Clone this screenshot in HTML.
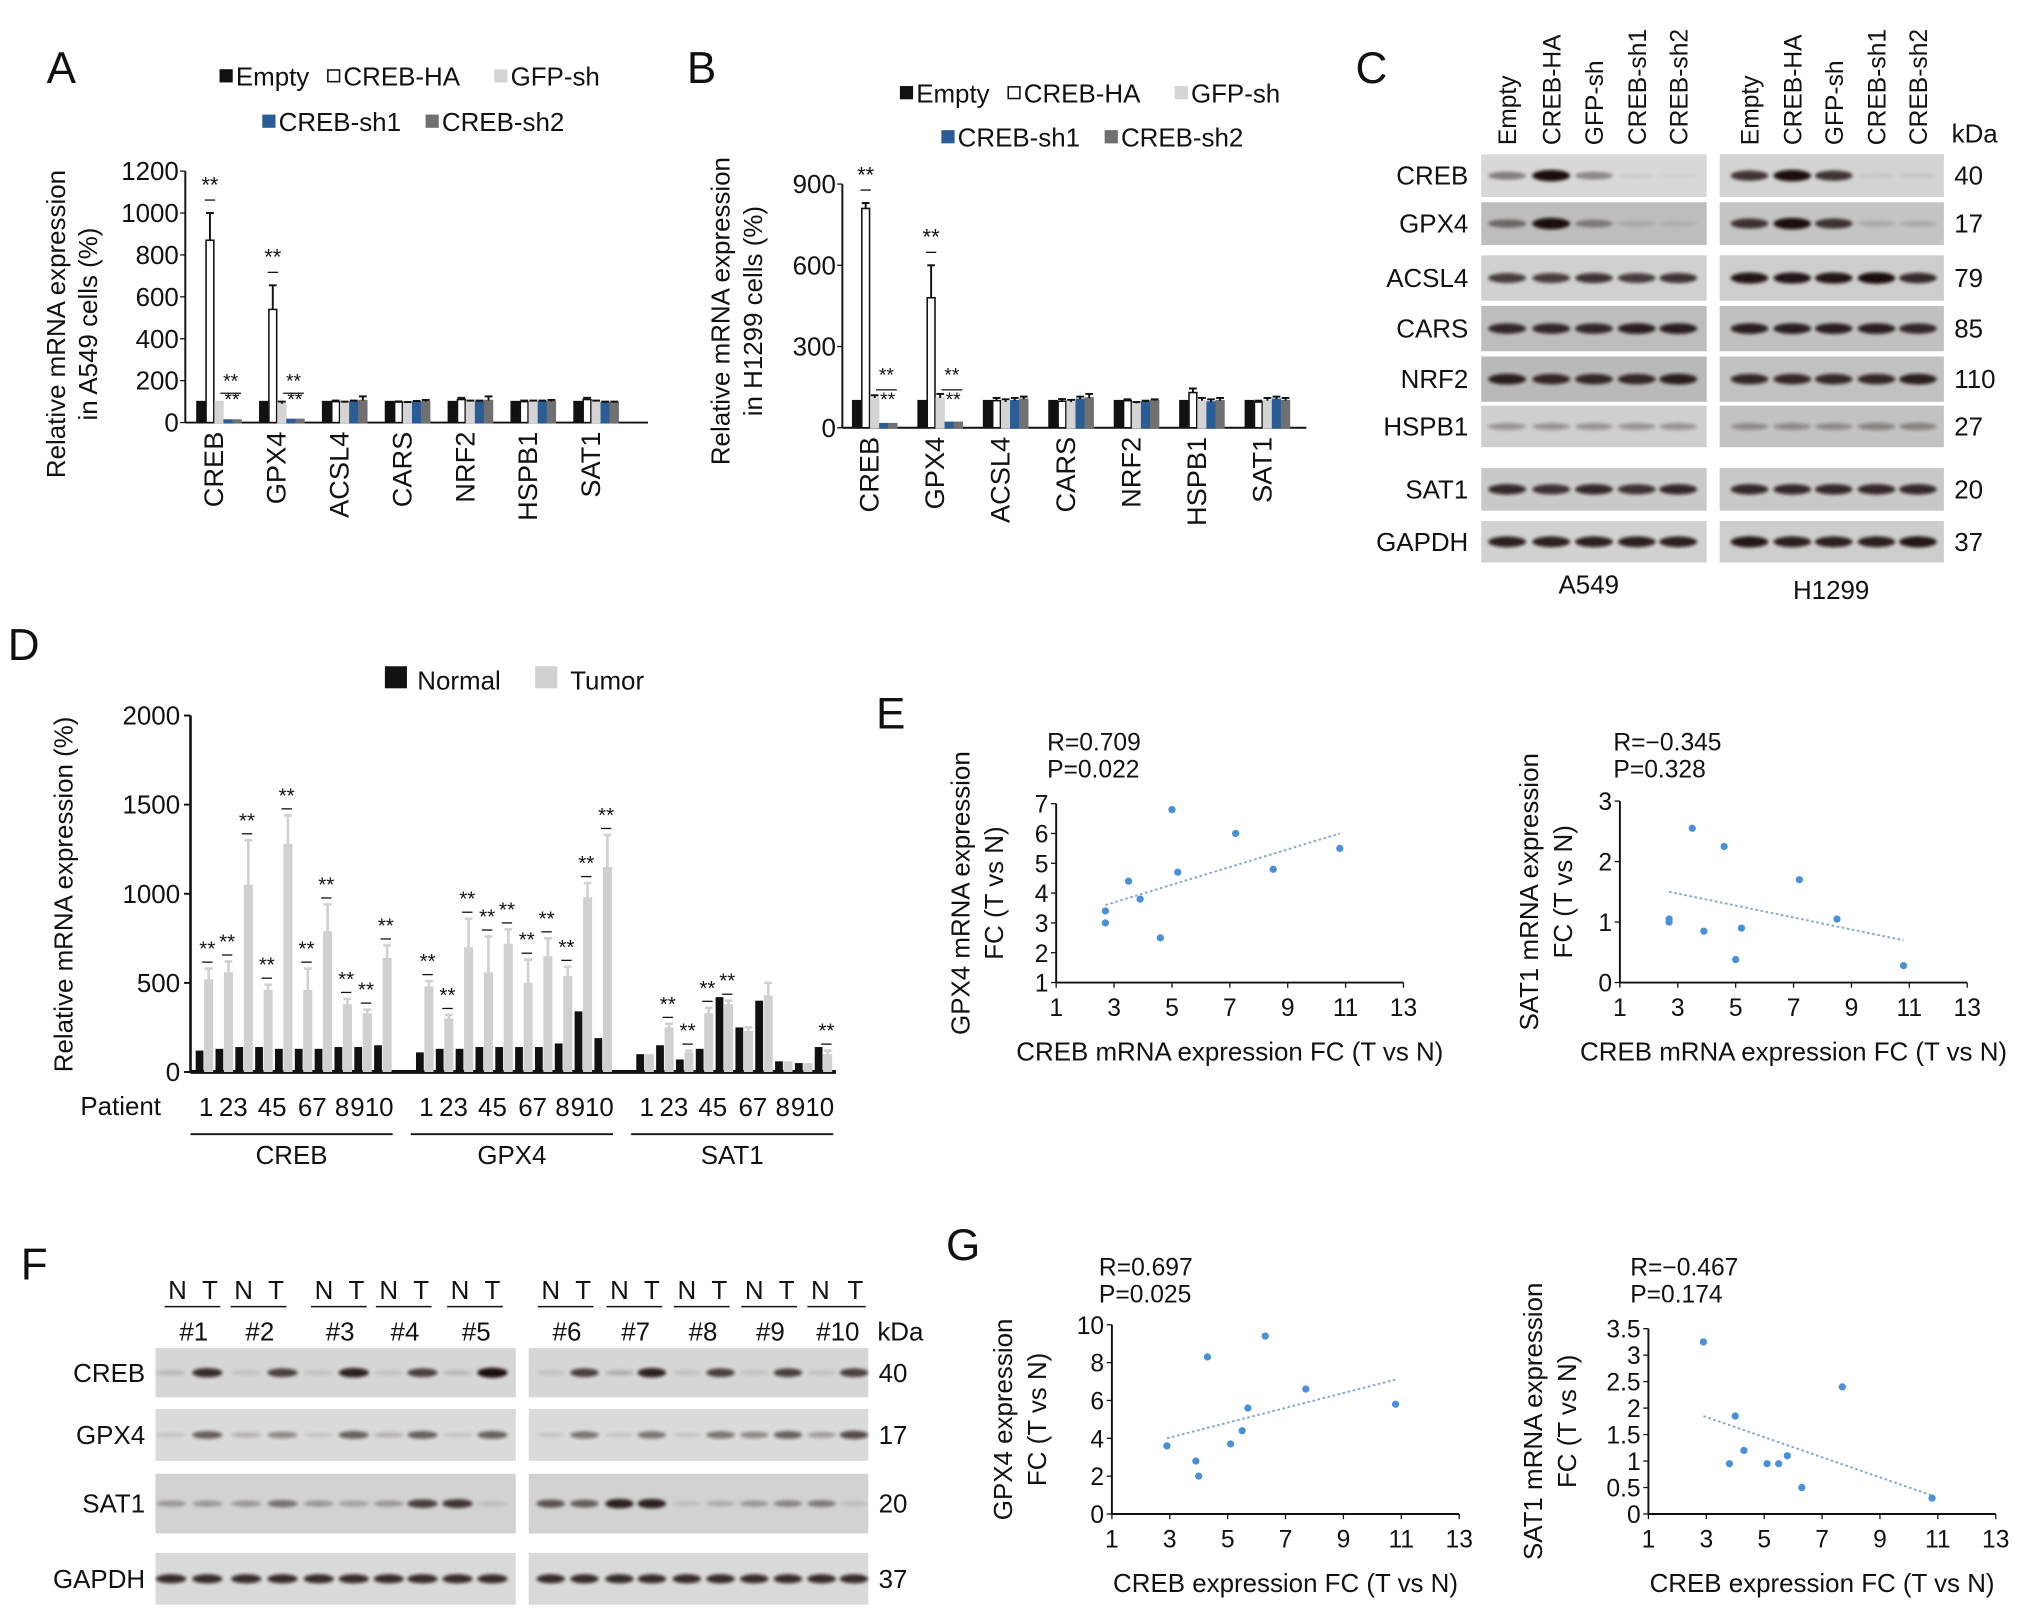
<!DOCTYPE html>
<html><head><meta charset="utf-8"><style>
html,body{margin:0;padding:0;background:#fff;}
svg{display:block;font-family:"Liberation Sans",Arial,sans-serif;}
</style></head><body>
<svg id="fig" width="2032" height="1619" viewBox="0 0 1568 1249" preserveAspectRatio="none" xmlns="http://www.w3.org/2000/svg">
<defs><filter id="blur" x="-20%" y="-50%" width="140%" height="200%"><feGaussianBlur stdDeviation="1.3"/></filter></defs>
</svg>
<script>
// ---------- DATA ----------
const genesA = ['CREB','GPX4','ACSL4','CARS','NRF2','HSPB1','SAT1'];
const seriesNames = ['Empty','CREB-HA','GFP-sh','CREB-sh1','CREB-sh2'];
const valsA = [[100,870,100,12,12],[100,540,90,15,15],[100,100,95,100,105],[100,98,95,98,100],[100,110,100,100,105],[100,100,100,100,100],[100,110,100,95,95]];
const errA = [[0,130,0,0,0],[0,115,10,0,0],[0,5,5,5,20],[0,3,3,5,8],[0,8,5,5,20],[0,5,5,5,8],[0,8,5,5,5]];
const ticksA = [0,200,400,600,800,1000,1200];
const valsB = [[100,810,110,15,15],[100,480,110,20,20],[100,100,95,100,105],[100,98,95,105,110],[100,100,90,95,100],[100,130,100,95,100],[100,95,100,105,100]];
const errB = [[0,20,10,0,0],[0,120,15,0,0],[0,10,10,10,10],[0,8,8,10,15],[0,5,5,5,5],[0,15,10,10,10],[0,5,10,10,10]];
const ticksB = [0,300,600,900];
const blotRowsC = ['CREB','GPX4','ACSL4','CARS','NRF2','HSPB1','SAT1','GAPDH'];
const kdaC = ['40','17','79','85','110','27','20','37'];
const bandA549 = [[0.45,1,0.4,0.05,0.03],[0.5,1,0.4,0.12,0.08],[0.75,0.75,0.8,0.75,0.8],[0.85,0.85,0.85,0.9,0.9],[0.9,0.85,0.85,0.85,0.9],[0.3,0.3,0.3,0.3,0.3],[0.85,0.8,0.85,0.8,0.85],[0.9,0.9,0.9,0.9,0.9]];
const bandH1299 = [[0.8,1,0.8,0.05,0.06],[0.8,1,0.8,0.15,0.15],[0.95,0.95,0.95,1,0.85],[0.9,0.9,0.9,0.9,0.85],[0.85,0.85,0.85,0.85,0.9],[0.3,0.3,0.3,0.35,0.35],[0.85,0.85,0.85,0.85,0.85],[0.95,0.9,0.9,0.9,0.95]];
const patients = ['1','2','3','4','5','6','7','8','9','10'];
const dGenes = ['CREB','GPX4','SAT1'];
const dNormal = [[120,130,140,140,130,130,130,140,140,150],[110,130,130,140,140,140,140,160,340,190],[100,150,70,130,420,250,400,60,50,140]];
const dTumor = [[520,560,1050,460,1280,460,790,380,330,640],[480,300,700,560,720,500,650,540,980,1150],[100,250,110,330,380,230,430,60,50,100]];
const dErr = [[60,60,250,30,160,120,150,30,20,70],[30,20,160,200,80,130,100,50,80,180],[0,20,10,30,20,20,70,0,0,20]];
const ticksD = [0,500,1000,1500,2000];
const eX = [2.7,2.7,3.5,3.9,4.6,5.0,5.2,7.2,8.5,10.8];
const eGPX4 = [3.0,3.4,4.4,3.8,2.5,6.8,4.7,6.0,4.8,5.5];
const eSAT1 = [1.0,1.05,2.55,0.85,2.25,0.38,0.9,1.7,1.05,0.28];
const gX = [2.9,3.9,4.0,4.3,5.1,5.5,5.7,6.3,7.7,10.8];
const gGPX4 = [3.6,2.8,2.0,8.3,3.7,4.4,5.6,9.4,6.6,5.8];
const gXs = [2.9,3.8,4.0,4.3,5.1,5.5,5.8,6.3,7.7,10.8];
const gSAT1 = [3.25,0.95,1.85,1.2,0.95,0.95,1.1,0.5,2.4,0.3];
const xTicksFC = [1,3,5,7,9,11,13];
const fCREB = [[0.15,0.85,0.1,0.75,0.1,0.9,0.1,0.75,0.15,1],[0.1,0.75,0.2,0.9,0.1,0.75,0.1,0.75,0.1,0.75]];
const fGPX4 = [[0.1,0.6,0.2,0.4,0.1,0.6,0.2,0.6,0.1,0.6],[0.1,0.5,0.1,0.5,0.1,0.5,0.4,0.6,0.3,0.7]];
const fSAT1 = [[0.3,0.3,0.3,0.5,0.3,0.25,0.3,0.75,0.8,0.1],[0.65,0.6,0.9,0.9,0.1,0.2,0.3,0.4,0.45,0.1]];
const fGAPDH = [[0.85,0.85,0.85,0.85,0.85,0.85,0.85,0.85,0.85,0.85],[0.85,0.85,0.85,0.85,0.85,0.85,0.85,0.85,0.85,0.85]];

// ---------- HELPERS ----------
const svg = document.getElementById('fig');
const NS = 'http://www.w3.org/2000/svg';
function mk(tag, attrs, parent, text){
  const e = document.createElementNS(NS, tag);
  for (const k in attrs) e.setAttribute(k, attrs[k]);
  if (text !== undefined) e.textContent = text;
  (parent||svg).appendChild(e);
  return e;
}
function txt(x,y,s,size,anchor,parent,rot){
  const a = {x:x,y:y,'font-size':size,'text-anchor':anchor||'start',fill:'#111'};
  if (rot) a.transform = 'rotate('+rot+' '+x+' '+y+')';
  const t = mk('text', a, parent, s);
  return t;
}
function grp(name){
  const g = mk('g', {});
  
  
  return g;
}
const barFill = ['#111','#fff','#d4d4d4','#2a5d96','#707070'];
const barStroke = ['#111','#111','#d4d4d4','#2a5d96','#707070'];

function barChart(name, vals, errs, ticks, x0, x1, yTop, y0, max, genes, labelTop, groupStart, groupW){
  const g = grp(name);
  const sy = v => y0 - v/max*(y0-yTop);
  mk('line',{x1:x0,y1:yTop,x2:x0,y2:y0,stroke:'#111','stroke-width':1.5},g);
  mk('line',{x1:x0,y1:y0,x2:x1,y2:y0,stroke:'#111','stroke-width':1.5},g);
  ticks.forEach(t=>{
    mk('line',{x1:x0-4,y1:sy(t),x2:x0,y2:sy(t),stroke:'#111'},g);
    txt(x0-5,sy(t)+7,String(t),20,'end',g);
  });
  const bw = 7;
  vals.forEach((row,i)=>{
    const gx = groupStart + i*groupW;
    row.forEach((v,j)=>{
      const bx = gx + j*bw;
      const r = mk('rect',{x:bx,y:sy(v),width:bw-1,height:y0-sy(v),fill:barFill[j],stroke:barStroke[j],'stroke-width':1.2},g);
      
      
      const e = errs[i][j];
      if (e>0){
        mk('line',{x1:bx+3,y1:sy(v),x2:bx+3,y2:sy(v+e),stroke:barStroke[j]==='#fff'?'#111':'#111','stroke-width':1.5},g);
        mk('line',{x1:bx,y1:sy(v+e),x2:bx+6,y2:sy(v+e),stroke:'#111','stroke-width':1.5},g);
      }
    });
    if (i<2){
      const top = sy(row[1]+errs[i][1]);
      txt(gx+10,top-16,'**',17,'middle',g);
      mk('line',{x1:gx+6,y1:top-10,x2:gx+14,y2:top-10,stroke:'#111'},g);
      txt(gx+26,sy(180)+2,'**',15,'middle',g);
      txt(gx+27,sy(80),'**',15,'middle',g);
      mk('line',{x1:gx+18,y1:sy(140),x2:gx+34,y2:sy(140),stroke:'#111'},g);
    }
    const lx = gx + 20;
    txt(lx, labelTop, genes[i], 21, 'end', g, -90);
  });
}
function legendItem(g,x,y,fill,stroke,label){
  mk('rect',{x:x,y:y-12,width:9,height:9,fill:fill,stroke:stroke,'stroke-width':1.2},g);
  txt(x+12,y,label,20,'start',g);
}

// ---------- PANEL LABELS ----------
[['A',36,64],['B',530,64],['C',1046,64],['D',6,509],['E',676,562],['F',16,987],['G',730,972]].forEach(p=>{
  const t = txt(p[1],p[2],p[0],34,'start');
  
  
});

// ---------- PANEL A ----------
let lg = grp('legend-a');
legendItem(lg,170,66,'#111','#111','Empty');
legendItem(lg,253,66,'#fff','#111','CREB-HA');
legendItem(lg,382,66,'#d4d4d4','#d4d4d4','GFP-sh');
legendItem(lg,203,101,'#2a5d96','#2a5d96','CREB-sh1');
legendItem(lg,329,101,'#707070','#707070','CREB-sh2');
barChart('chart-a',valsA,errA,ticksA,143,500,132,326,1200,genesA,333,152,48.5);
let yl = grp('y-axis-title-a');
txt(50,250,'Relative mRNA expression',20,'middle',yl,-90);
txt(75,250,'in A549 cells (%)',20,'middle',yl,-90);

// ---------- PANEL B ----------
lg = grp('legend-b');
legendItem(lg,695,79,'#111','#111','Empty');
legendItem(lg,778,79,'#fff','#111','CREB-HA');
legendItem(lg,907,79,'#d4d4d4','#d4d4d4','GFP-sh');
legendItem(lg,727,113,'#2a5d96','#2a5d96','CREB-sh1');
legendItem(lg,853,113,'#707070','#707070','CREB-sh2');
barChart('chart-b',valsB,errB,ticksB,650,1008,142,330,900,genesA,337,658,50.5);
yl = grp('y-axis-title-b');
txt(563,240,'Relative mRNA expression',20,'middle',yl,-90);
txt(588,240,'in H1299 cells (%)',20,'middle',yl,-90);

// ---------- BLOTS ----------
function blotBox(g,x,y,w,h,lanes,ints,bg,bh){
  mk('rect',{x:x,y:y,width:w,height:h,fill:bg},g);
  lanes.forEach((lx,i)=>{
    const a = ints[i];
    if (a<=0.02) return;
    const e = mk('ellipse',{cx:lx,cy:y+h/2,rx:w/lanes.length*0.42,ry:bh*(0.5+a*0.6),fill:'#1a0d0d',opacity:Math.min(1,a),filter:'url(#blur)'},g);
    
    
  });
}
let cg = grp('blot-c');
const cRowY = [119,156,197,236,275,313,361,402];
const cRowH = [33,33,35,35,35,32,33,32];
const bgC = ['#d8d8d8','#bdbdbd','#d0d0d0','#bdbdbd','#b9b9b9','#cfcfcf','#c9c9c9','#d1d1d1'];
const bgH = ['#d3d3d3','#c4c4c4','#cdcdcd','#c0c0c0','#c1c1c1','#c2c2c2','#c8c8c8','#cdcdcd'];
const lanesA = [1163,1197,1230,1263,1295];
const lanesH = [1350,1383,1415,1448,1480];
blotRowsC.forEach((r,i)=>{
  blotBox(cg,1143,cRowY[i],174,cRowH[i],lanesA,bandA549[i],bgC[i],4);
  blotBox(cg,1327,cRowY[i],173,cRowH[i],lanesH,bandH1299[i],bgH[i],4);
  txt(1133,cRowY[i]+cRowH[i]/2+7,r,20,'end',cg);
  txt(1508,cRowY[i]+cRowH[i]/2+7,kdaC[i],20,'start',cg);
});
seriesNames.forEach((s,i)=>{
  txt(lanesA[i]+7,112,s,19,'start',cg,-90);
  txt(lanesH[i]+7,112,s,19,'start',cg,-90);
});
txt(1506,110,'kDa',20,'start',cg);
txt(1226,458,'A549',20,'middle',cg);
txt(1413,462,'H1299',20,'middle',cg);

// ---------- PANEL D ----------
let dg = grp('chart-d');
const dx0=147, dy0=827, dyTop=552, dmax=2000;
const dsy = v => dy0 - v/dmax*(dy0-dyTop);
lg = grp('legend-d');
mk('rect',{x:297,y:514,width:17,height:17,fill:'#111'},lg); txt(322,532,'Normal',20,'start',lg);
mk('rect',{x:413,y:514,width:17,height:17,fill:'#d0d0d0'},lg); txt(440,532,'Tumor',20,'start',lg);
mk('line',{x1:dx0,y1:dyTop,x2:dx0,y2:dy0,stroke:'#111','stroke-width':2},dg);
mk('line',{x1:dx0,y1:dy0,x2:645,y2:dy0,stroke:'#111','stroke-width':3},dg);
ticksD.forEach(t=>{ mk('line',{x1:dx0-5,y1:dsy(t),x2:dx0,y2:dsy(t),stroke:'#111','stroke-width':1.5},dg); txt(dx0-8,dsy(t)+7,String(t),20,'end',dg); });
txt(56,690,'Relative mRNA expression (%)',20,'middle',dg,-90);
txt(62,860,'Patient',20,'start',dg);
const dStart=[151,321,491];
dGenes.forEach((gname,k)=>{
  const s = dStart[k];
  for(let i=0;i<10;i++){
    const px = s + i*15.3;
    const n = mk('rect',{x:px,y:dsy(dNormal[k][i]),width:6,height:dy0-dsy(dNormal[k][i]),fill:'#111'},dg);
    
    
    const tv = dTumor[k][i];
    const t = mk('rect',{x:px+6.5,y:dsy(tv),width:7,height:dy0-dsy(tv),fill:'#d0d0d0'},dg);
    
    
    const ev = dErr[k][i];
    if (ev>0){
      mk('line',{x1:px+10,y1:dsy(tv),x2:px+10,y2:dsy(tv+ev),stroke:'#d0d0d0','stroke-width':2},dg);
      mk('line',{x1:px+7,y1:dsy(tv+ev),x2:px+13,y2:dsy(tv+ev),stroke:'#d0d0d0','stroke-width':2},dg);
    }
    const sig = !(k===2 && (i===0||i===5||i===6||i===7||i===8));
    if (sig){
      txt(px+9,dsy(tv+ev)-10,'**',16,'middle',dg);
      mk('line',{x1:px+5,y1:dsy(tv+ev)-5,x2:px+13,y2:dsy(tv+ev)-5,stroke:'#111'},dg);
    }
  }
  const labels = ['1','23','45','67','8','910'];
  const lxs = [s+8,s+29,s+59,s+90,s+113,s+136];
  labels.forEach((l,j)=>txt(lxs[j],861,l,20,'middle',dg));
  mk('line',{x1:s-4,y1:875,x2:s+152,y2:875,stroke:'#111','stroke-width':1.5},dg);
  txt(s+74,898,gname,20,'middle',dg);
});

// ---------- SCATTER ----------
function scatter(name, xs, ys, xAx, yAx, yTicks, yMax, yMin, line, stats, ylab, xlab, ylabX){
  const g = grp(name);
  const sx = v => xAx[0] + (v-1)/12*(xAx[1]-xAx[0]);
  const sy = v => yAx[0] - (v-yMin)/(yMax-yMin)*(yAx[0]-yAx[1]);
  mk('line',{x1:xAx[0],y1:yAx[1],x2:xAx[0],y2:yAx[0],stroke:'#111','stroke-width':1.5},g);
  mk('line',{x1:xAx[0],y1:yAx[0],x2:xAx[1],y2:yAx[0],stroke:'#111','stroke-width':1.5},g);
  yTicks.forEach(t=>{ mk('line',{x1:xAx[0]-4,y1:sy(t),x2:xAx[0],y2:sy(t),stroke:'#111'},g); txt(xAx[0]-6,sy(t)+7,String(t),19,'end',g); });
  xTicksFC.forEach(t=>{ mk('line',{x1:sx(t),y1:yAx[0],x2:sx(t),y2:yAx[0]+4,stroke:'#111'},g); txt(sx(t),yAx[0]+26,String(t),19,'middle',g); });
  mk('line',{x1:sx(line[0]),y1:sy(line[1]),x2:sx(line[2]),y2:sy(line[3]),stroke:'#7fa8d8','stroke-width':1.5,'stroke-dasharray':'2,2'},g);
  xs.forEach((x,i)=>{
    const c = mk('circle',{cx:sx(x),cy:sy(ys[i]),r:2.8,fill:'#4a90d9'},g);
    
    
  });
  txt(stats[0],stats[1],stats[2],19,'start',g);
  txt(stats[0],stats[1]+21,stats[3],19,'start',g);
  txt(ylabX,(yAx[0]+yAx[1])/2,ylab[0],20,'middle',g,-90);
  txt(ylabX+26,(yAx[0]+yAx[1])/2,ylab[1],20,'middle',g,-90);
  txt((xAx[0]+xAx[1])/2,yAx[0]+60,xlab,20,'middle',g);
}
scatter('scatter-e-gpx4',eX,eGPX4,[815,1083],[758,620],[1,2,3,4,5,6,7],7,1,[2.7,3.6,10.8,6.0],[808,579,'R=0.709','P=0.022'],['GPX4 mRNA expression','FC (T vs N)'],'CREB mRNA expression FC (T vs N)',748);
scatter('scatter-e-sat1',eX,eSAT1,[1250,1518],[758,618],[0,1,2,3],3,0,[2.7,1.5,10.8,0.7],[1245,579,'R=\u22120.345','P=0.328'],['SAT1 mRNA expression','FC (T vs N)'],'CREB mRNA expression FC (T vs N)',1187);
scatter('scatter-g-gpx4',gX,gGPX4,[858,1126],[1168,1022],[0,2,4,6,8,10],10,0,[2.9,4.0,10.8,7.1],[848,984,'R=0.697','P=0.025'],['GPX4 expression','FC (T vs N)'],'CREB expression FC (T vs N)',781);
scatter('scatter-g-sat1',gXs,gSAT1,[1272,1540],[1168,1025],[0,0.5,1,1.5,2,2.5,3,3.5],3.5,0,[2.9,1.85,10.8,0.35],[1258,984,'R=\u22120.467','P=0.174'],['SAT1 mRNA expression','FC (T vs N)'],'CREB expression FC (T vs N)',1190);

// ---------- PANEL F ----------
let fg = grp('blot-f');
const fLanes1 = [132,160,190,218,246,273,300,326,353,380];
const fLanes2 = [425,451,478,503,530,556,582,608,634,659];
const fRows = [['CREB',1040,38,fCREB,'40','#d6d6d6'],['GPX4',1087,40,fGPX4,'17','#dadada'],['SAT1',1137,46,fSAT1,'20','#d2d2d2'],['GAPDH',1198,40,fGAPDH,'37','#d9d9d9']];
fRows.forEach(r=>{
  blotBox(fg,120,r[1],278,r[2],fLanes1,r[3][0],r[5],3.5);
  blotBox(fg,408,r[1],262,r[2],fLanes2,r[3][1],r[5],3.5);
  txt(112,r[1]+r[2]/2+7,r[0],20,'end',fg);
  txt(678,r[1]+r[2]/2+7,r[4],20,'start',fg);
});
txt(677,1034,'kDa',20,'start',fg);
const hdr = [[137,162],[188,213],[250,275],[300,325],[355,380],[425,450],[478,503],[530,555],[582,607],[633,660]];
hdr.forEach((p,i)=>{
  txt(p[0],1002,'N',20,'middle',fg);
  txt(p[1],1002,'T',20,'middle',fg);
  mk('line',{x1:p[0]-10,y1:1008,x2:p[1]+8,y2:1008,stroke:'#111','stroke-width':1.2},fg);
  txt((p[0]+p[1])/2,1034,'#'+(i+1),20,'middle',fg);
});
</script>
</body></html>
